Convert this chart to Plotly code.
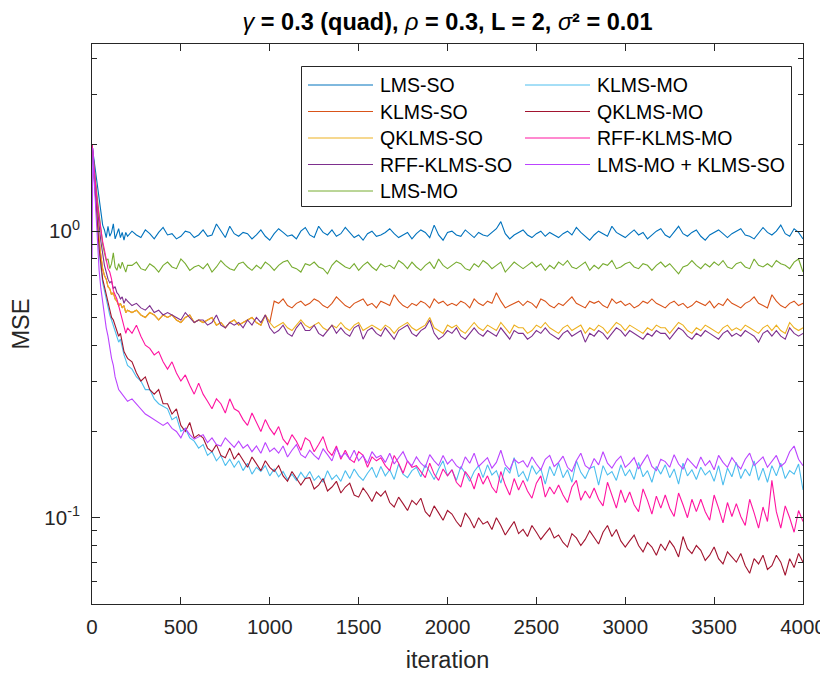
import math
import plotly.graph_objects as go

# ---------------- data ----------------
ITER = [0, 5, 10, 20, 30, 40, 50, 60, 70, 80, 90,
        100, 110, 120, 130, 140, 150, 160, 170, 180, 190, 200] + list(range(225, 4001, 25))

LMS_SO = [
    2.0, 1.9, 1.8, 1.6, 1.42, 1.3, 1.15, 1.05, 1.01, 0.95, 1.04,
    0.96, 0.99, 1.06, 0.94, 0.98, 1.02, 0.95, 0.99, 0.93, 0.99, 0.96,
    1.00, 0.97, 0.95, 1.01, 0.98, 0.94, 0.99, 1.03,
    0.97, 0.98, 0.94, 0.96, 1.00, 0.99, 0.95, 0.97,
    1.01, 0.96, 0.97, 1.06, 1.00, 0.95, 1.04, 0.98,
    0.96, 0.99, 0.98, 0.94, 0.97, 1.01, 0.96, 0.93,
    0.98, 1.02, 0.99, 0.96, 0.97, 0.94, 1.00, 1.03,
    0.97, 0.95, 1.04, 0.99, 0.97, 1.01, 0.96, 0.98,
    1.03, 0.99, 0.95, 0.97, 0.93, 0.98, 1.00, 0.96,
    0.97, 0.99, 1.02, 0.98, 0.95, 0.97, 0.99, 0.94,
    0.98, 1.01, 0.99, 0.95, 1.05, 0.97, 0.93, 0.99,
    1.00, 0.97, 0.96, 1.01, 0.98, 0.95, 0.99, 0.97,
    0.96, 0.99, 1.02, 1.08, 0.98, 0.94, 0.97, 0.99,
    1.01, 0.97, 0.95, 0.98, 1.00, 0.96, 0.99, 0.97,
    0.95, 0.98, 1.00, 0.97, 1.03, 0.99, 0.96, 0.93,
    0.97, 1.00, 0.98, 0.96, 1.04, 0.99, 0.97, 0.95,
    0.98, 1.01, 0.97, 0.99, 0.94, 0.97, 1.00, 1.02,
    0.97, 0.95, 0.99, 1.04, 0.98, 0.96, 0.99, 1.01,
    0.96, 0.93, 0.97, 0.99, 1.01, 0.98, 0.95, 0.98,
    1.00, 1.02, 0.97, 0.96, 0.94, 0.98, 1.03, 0.99,
    0.97, 1.00, 1.05, 0.98, 0.96, 1.02, 0.99, 0.94,
]

QKLMS_SO = [
    2.0, 1.85, 1.65, 1.35, 1.1, 0.93, 0.82, 0.74, 0.7, 0.68, 0.64,
    0.63, 0.6, 0.61, 0.58, 0.57, 0.55, 0.56, 0.54, 0.55, 0.52, 0.53,
    0.52, 0.53, 0.51, 0.50, 0.52, 0.51, 0.49, 0.51,
    0.50, 0.51, 0.49, 0.48, 0.50, 0.51, 0.48, 0.49,
    0.48, 0.49, 0.50, 0.47, 0.48, 0.46, 0.48, 0.49,
    0.47, 0.48, 0.49, 0.50, 0.48, 0.47, 0.51, 0.48,
    0.46, 0.47, 0.48, 0.46, 0.45, 0.47, 0.49, 0.47,
    0.46, 0.47, 0.48, 0.46, 0.45, 0.47, 0.46, 0.48,
    0.46, 0.45, 0.47, 0.48, 0.45, 0.46, 0.47, 0.46,
    0.45, 0.47, 0.46, 0.44, 0.46, 0.47, 0.48, 0.46,
    0.45, 0.46, 0.47, 0.50, 0.46, 0.45, 0.44, 0.47,
    0.46, 0.47, 0.45, 0.44, 0.46, 0.48, 0.46, 0.45,
    0.47, 0.46, 0.45, 0.48, 0.46, 0.44, 0.47, 0.46,
    0.46, 0.44, 0.45, 0.47, 0.46, 0.48, 0.46, 0.45,
    0.44, 0.46, 0.47, 0.45, 0.46, 0.47, 0.44, 0.46,
    0.45, 0.47, 0.46, 0.44, 0.46, 0.48, 0.47, 0.45,
    0.47, 0.46, 0.45, 0.44, 0.46, 0.45, 0.47, 0.46,
    0.46, 0.44, 0.46, 0.48, 0.47, 0.45, 0.44, 0.46,
    0.45, 0.47, 0.46, 0.45, 0.44, 0.46, 0.47, 0.45,
    0.46, 0.45, 0.47, 0.46, 0.45, 0.44, 0.46, 0.47,
    0.45, 0.47, 0.45, 0.44, 0.48, 0.46, 0.45, 0.46,
]

# KLMS-SO coincides with QKLMS-SO up to iteration 1000, then jumps up
KLMS_SO_AFTER_1000 = [
    0.57, 0.56, 0.58, 0.55, 0.54, 0.56, 0.57, 0.55,
    0.56, 0.58, 0.57, 0.55, 0.54, 0.56, 0.59, 0.57,
    0.55, 0.54, 0.56, 0.57, 0.58, 0.55, 0.56, 0.54,
    0.57, 0.56, 0.55, 0.60, 0.57, 0.55, 0.54, 0.56,
    0.55, 0.57, 0.56, 0.54, 0.58, 0.56, 0.57, 0.55,
    0.56, 0.55, 0.57, 0.56, 0.54, 0.58, 0.56, 0.55,
    0.57, 0.56, 0.61, 0.57, 0.54, 0.55, 0.56, 0.57,
    0.55, 0.57, 0.56, 0.54, 0.58, 0.57, 0.55, 0.54,
    0.56, 0.55, 0.57, 0.59, 0.56, 0.55, 0.54, 0.57,
    0.56, 0.57, 0.55, 0.54, 0.58, 0.56, 0.57, 0.55,
    0.56, 0.54, 0.55, 0.57, 0.56, 0.58, 0.56, 0.55,
    0.54, 0.56, 0.57, 0.55, 0.56, 0.54, 0.55, 0.57,
    0.56, 0.55, 0.57, 0.54, 0.56, 0.55, 0.58, 0.56,
    0.55, 0.54, 0.56, 0.57, 0.59, 0.56, 0.55, 0.54,
    0.60, 0.57, 0.55, 0.54, 0.56, 0.57, 0.55, 0.56,
]
KLMS_SO = QKLMS_SO[:54] + KLMS_SO_AFTER_1000

RFF_KLMS_SO = [
    2.0, 1.9, 1.75, 1.45, 1.2, 1.05, 0.92, 0.82, 0.76, 0.72, 0.68,
    0.66, 0.67, 0.63, 0.64, 0.61, 0.6, 0.58, 0.59, 0.56, 0.58, 0.57,
    0.55, 0.56, 0.54, 0.53, 0.55, 0.52, 0.53, 0.51,
    0.52, 0.51, 0.50, 0.49, 0.52, 0.50, 0.48, 0.49,
    0.49, 0.47, 0.48, 0.51, 0.47, 0.46, 0.48, 0.47,
    0.48, 0.46, 0.49, 0.47, 0.50, 0.48, 0.51, 0.46,
    0.44, 0.45, 0.47, 0.44, 0.43, 0.46, 0.48, 0.45,
    0.45, 0.47, 0.44, 0.43, 0.45, 0.47, 0.44, 0.46,
    0.44, 0.43, 0.46, 0.47, 0.42, 0.45, 0.46, 0.44,
    0.43, 0.46, 0.44, 0.42, 0.45, 0.46, 0.47, 0.44,
    0.43, 0.45, 0.46, 0.49, 0.44, 0.42, 0.43, 0.45,
    0.44, 0.46, 0.43, 0.42, 0.44, 0.46, 0.44, 0.43,
    0.45, 0.44, 0.43, 0.46, 0.44, 0.42, 0.45, 0.44,
    0.44, 0.42, 0.43, 0.45, 0.44, 0.46, 0.44, 0.43,
    0.42, 0.44, 0.45, 0.43, 0.44, 0.45, 0.41, 0.44,
    0.43, 0.45, 0.44, 0.42, 0.44, 0.46, 0.45, 0.43,
    0.45, 0.44, 0.43, 0.42, 0.44, 0.43, 0.45, 0.44,
    0.44, 0.42, 0.44, 0.46, 0.45, 0.43, 0.42, 0.44,
    0.43, 0.45, 0.44, 0.43, 0.42, 0.44, 0.45, 0.43,
    0.44, 0.43, 0.45, 0.44, 0.43, 0.41, 0.44, 0.45,
    0.43, 0.45, 0.43, 0.42, 0.46, 0.44, 0.43, 0.44,
]

LMS_MO = [
    2.0, 1.85, 1.7, 1.45, 1.3, 1.15, 1.0, 0.9, 0.84, 0.79, 0.8,
    0.74, 0.77, 0.84, 0.75, 0.73, 0.77, 0.74, 0.78, 0.75, 0.72, 0.76,
    0.76, 0.78, 0.74, 0.73, 0.77, 0.75, 0.72, 0.76,
    0.78, 0.75, 0.74, 0.80, 0.77, 0.73, 0.75, 0.76,
    0.74, 0.77, 0.72, 0.75, 0.79, 0.76, 0.74, 0.73,
    0.77, 0.78, 0.75, 0.73, 0.76, 0.74, 0.78, 0.76,
    0.73, 0.76, 0.78, 0.79, 0.75, 0.74, 0.72, 0.77,
    0.76, 0.78, 0.75, 0.74, 0.71, 0.76, 0.79, 0.77,
    0.75, 0.74, 0.77, 0.73, 0.76, 0.78, 0.75, 0.73,
    0.77, 0.75, 0.76, 0.74, 0.79, 0.77, 0.74, 0.78,
    0.75, 0.73, 0.76, 0.78, 0.74, 0.80, 0.76, 0.74,
    0.76, 0.78, 0.77, 0.74, 0.73, 0.77, 0.75, 0.79,
    0.77, 0.74, 0.76, 0.78, 0.72, 0.75, 0.78, 0.76,
    0.74, 0.76, 0.78, 0.75, 0.77, 0.73, 0.76, 0.74,
    0.78, 0.76, 0.79, 0.75, 0.74, 0.76, 0.78, 0.73,
    0.76, 0.74, 0.77, 0.76, 0.79, 0.74, 0.75, 0.77,
    0.78, 0.75, 0.74, 0.77, 0.76, 0.73, 0.76, 0.78,
    0.75, 0.77, 0.74, 0.71, 0.75, 0.76, 0.79, 0.76,
    0.74, 0.77, 0.75, 0.78, 0.76, 0.79, 0.75, 0.74,
    0.77, 0.78, 0.75, 0.74, 0.80, 0.76, 0.75, 0.77,
    0.75, 0.79, 0.77, 0.76, 0.74, 0.78, 0.80, 0.72,
]

KLMS_MO = [
    2.0, 1.8, 1.58, 1.22, 0.98, 0.85, 0.75, 0.66, 0.62, 0.58, 0.55,
    0.51, 0.49, 0.47, 0.45, 0.43, 0.41, 0.42, 0.39, 0.37, 0.355, 0.34,
    0.33, 0.31, 0.30, 0.28, 0.28, 0.26, 0.25, 0.245,
    0.24, 0.22, 0.225, 0.20, 0.205, 0.19, 0.185, 0.175,
    0.18, 0.165, 0.17, 0.158, 0.165, 0.152, 0.16, 0.15,
    0.158, 0.146, 0.155, 0.142, 0.15, 0.145, 0.152, 0.14,
    0.148, 0.139, 0.145, 0.136, 0.142, 0.135, 0.144, 0.137,
    0.145, 0.135, 0.14, 0.133, 0.146, 0.136, 0.141, 0.134,
    0.146, 0.137, 0.148, 0.14, 0.135, 0.143, 0.15, 0.138,
    0.151, 0.14, 0.147, 0.136, 0.154, 0.142, 0.138, 0.146,
    0.15, 0.139, 0.153, 0.145, 0.136, 0.148, 0.158, 0.14,
    0.147, 0.135, 0.151, 0.143, 0.134, 0.145, 0.152, 0.138,
    0.153, 0.141, 0.146, 0.132, 0.15, 0.143, 0.162, 0.139,
    0.145, 0.134, 0.152, 0.142, 0.148, 0.131, 0.151, 0.14,
    0.155, 0.138, 0.147, 0.133, 0.158, 0.144, 0.137, 0.149,
    0.151, 0.13, 0.152, 0.141, 0.145, 0.135, 0.153, 0.14,
    0.147, 0.136, 0.156, 0.139, 0.146, 0.133, 0.151, 0.142,
    0.153, 0.138, 0.148, 0.131, 0.155, 0.14, 0.147, 0.136,
    0.15, 0.141, 0.146, 0.134, 0.152, 0.13, 0.149, 0.139,
    0.156, 0.137, 0.148, 0.14, 0.158, 0.135, 0.149, 0.133,
    0.152, 0.14, 0.155, 0.137, 0.146, 0.142, 0.154, 0.125,
]

QKLMS_MO = [
    2.0, 1.8, 1.6, 1.25, 1.0, 0.87, 0.77, 0.68, 0.64, 0.6, 0.56,
    0.53, 0.5, 0.49, 0.47, 0.45, 0.43, 0.44, 0.41, 0.38, 0.37, 0.36,
    0.35, 0.32, 0.30, 0.31, 0.28, 0.27, 0.28, 0.25,
    0.25, 0.23, 0.24, 0.21, 0.20, 0.215, 0.19, 0.195,
    0.19, 0.175, 0.17, 0.18, 0.165, 0.162, 0.175, 0.16,
    0.168, 0.158, 0.15, 0.163, 0.155, 0.146, 0.158, 0.15,
    0.145, 0.152, 0.14, 0.134, 0.145, 0.138, 0.13, 0.137,
    0.138, 0.126, 0.13, 0.137, 0.124, 0.128, 0.134, 0.122,
    0.128, 0.132, 0.12, 0.118, 0.127, 0.121, 0.114, 0.123,
    0.119, 0.124, 0.113, 0.109, 0.118, 0.112, 0.106, 0.115,
    0.111, 0.117, 0.105, 0.101, 0.11, 0.104, 0.098, 0.106,
    0.103, 0.097, 0.093, 0.104, 0.099, 0.092, 0.1, 0.095,
    0.097, 0.091, 0.1, 0.094, 0.087, 0.092, 0.097, 0.088,
    0.091, 0.086, 0.094, 0.089, 0.084, 0.088, 0.092, 0.085,
    0.087, 0.082, 0.079, 0.088, 0.085, 0.08, 0.084, 0.09,
    0.085, 0.081, 0.089, 0.094, 0.086, 0.091, 0.083, 0.079,
    0.083, 0.087, 0.08, 0.076, 0.082, 0.079, 0.074, 0.081,
    0.077, 0.083, 0.079, 0.073, 0.086, 0.078, 0.075, 0.08,
    0.077, 0.071, 0.074, 0.079, 0.072, 0.069, 0.076, 0.073,
    0.07, 0.075, 0.068, 0.064, 0.072, 0.069, 0.074, 0.066,
    0.068, 0.074, 0.07, 0.063, 0.072, 0.067, 0.075, 0.07,
]

RFF_KLMS_MO = [
    2.0, 1.9, 1.7, 1.4, 1.25, 1.12, 1.0, 0.92, 0.86, 0.8, 0.74,
    0.72, 0.68, 0.62, 0.6, 0.58, 0.55, 0.52, 0.49, 0.46, 0.44, 0.46,
    0.44, 0.47, 0.43, 0.40, 0.39, 0.37, 0.38, 0.35,
    0.33, 0.35, 0.32, 0.30, 0.315, 0.29, 0.27, 0.295,
    0.27, 0.255, 0.24, 0.26, 0.25, 0.232, 0.26, 0.24,
    0.235, 0.22, 0.21, 0.232, 0.215, 0.20, 0.22, 0.205,
    0.195, 0.208, 0.188, 0.18, 0.195, 0.185, 0.172, 0.19,
    0.185, 0.17, 0.18, 0.192, 0.172, 0.165, 0.178, 0.16,
    0.172, 0.16, 0.156, 0.17, 0.165, 0.15, 0.163, 0.158,
    0.162, 0.152, 0.146, 0.165, 0.155, 0.143, 0.158, 0.15,
    0.152, 0.145, 0.138, 0.155, 0.142, 0.135, 0.148, 0.14,
    0.147, 0.133, 0.128, 0.145, 0.138, 0.126, 0.143, 0.131,
    0.14, 0.128, 0.122, 0.145, 0.13, 0.12, 0.137, 0.125,
    0.135, 0.124, 0.117, 0.132, 0.14, 0.118, 0.128, 0.121,
    0.13, 0.12, 0.113, 0.128, 0.135, 0.115, 0.124, 0.117,
    0.127, 0.116, 0.11, 0.133, 0.12, 0.108, 0.125, 0.113,
    0.123, 0.111, 0.105, 0.126, 0.115, 0.103, 0.119, 0.108,
    0.12, 0.108, 0.101, 0.122, 0.111, 0.10, 0.116, 0.105,
    0.116, 0.105, 0.098, 0.12, 0.108, 0.096, 0.113, 0.101,
    0.112, 0.101, 0.094, 0.116, 0.104, 0.092, 0.109, 0.097,
    0.135, 0.105, 0.092, 0.11, 0.10, 0.089, 0.106, 0.097,
]

LMS_MO_KLMS_SO = [
    0.8, 1.95, 1.6, 1.18, 0.9, 0.73, 0.63, 0.56, 0.5, 0.46, 0.43,
    0.39, 0.36, 0.34, 0.31, 0.295, 0.28, 0.275, 0.27, 0.265, 0.26, 0.255,
    0.26, 0.25, 0.24, 0.23, 0.225, 0.22, 0.215, 0.21,
    0.215, 0.205, 0.20, 0.19, 0.205, 0.195, 0.188, 0.192,
    0.195, 0.183, 0.19, 0.18, 0.178, 0.19, 0.182, 0.176,
    0.185, 0.175, 0.18, 0.17, 0.178, 0.168, 0.183, 0.17,
    0.175, 0.168, 0.178, 0.163, 0.172, 0.18, 0.166, 0.162,
    0.172, 0.165, 0.16, 0.174, 0.166, 0.158, 0.175, 0.163,
    0.168, 0.16, 0.172, 0.158, 0.165, 0.155, 0.17, 0.162,
    0.165, 0.156, 0.168, 0.154, 0.162, 0.17, 0.157, 0.152,
    0.163, 0.155, 0.15, 0.166, 0.158, 0.152, 0.165, 0.154,
    0.16, 0.152, 0.148, 0.163, 0.155, 0.168, 0.151, 0.157,
    0.162, 0.149, 0.156, 0.172, 0.153, 0.147, 0.16, 0.155,
    0.158, 0.15, 0.163, 0.154, 0.147, 0.16, 0.165, 0.151,
    0.156, 0.164, 0.15, 0.145, 0.158, 0.168, 0.152, 0.148,
    0.161, 0.153, 0.17, 0.155, 0.149, 0.158, 0.164, 0.15,
    0.155, 0.162, 0.148, 0.157, 0.166, 0.151, 0.146, 0.16,
    0.157, 0.15, 0.166, 0.154, 0.148, 0.161, 0.155, 0.149,
    0.163, 0.152, 0.158, 0.147, 0.165, 0.156, 0.15, 0.162,
    0.154, 0.148, 0.16, 0.168, 0.152, 0.157, 0.163, 0.15,
    0.158, 0.165, 0.151, 0.156, 0.17, 0.178, 0.16, 0.152,
]

NAMES = ["LMS-SO", "KLMS-SO", "QKLMS-SO", "RFF-KLMS-SO", "LMS-MO",
         "KLMS-MO", "QKLMS-MO", "RFF-KLMS-MO", "LMS-MO + KLMS-SO"]
COLORS = ["#0072BD", "#D95319", "#EDB120", "#7E2F8E", "#77AC30",
          "#4DBEEE", "#A2142F", "#FF14A0", "#BB44FF"]
SERIES = [LMS_SO, KLMS_SO, QKLMS_SO, RFF_KLMS_SO, LMS_MO,
          KLMS_MO, QKLMS_MO, RFF_KLMS_MO, LMS_MO_KLMS_SO]

X_TICKS = [0, 500, 1000, 1500, 2000, 2500, 3000, 3500, 4000]
Y_MAJOR = [0.1, 1]
Y_MAJOR_TEXT = ["10<sup>-1</sup>", "10<sup>0</sup>"]
Y_MINOR = [0.06, 0.07, 0.08, 0.09, 0.2, 0.3, 0.4, 0.5, 0.6, 0.7, 0.8, 0.9, 2, 3, 4]
Y_MIN, Y_MAX = 0.05, 4.5

# ---------------- figure ----------------
# the page body has an 8 px default margin, so the figure is drawn at (8, 8)
OFF = 8
W, H = 828 - OFF, 674 - OFF
ML, MR, MT, MB = 84, 25, 36, 70
PW, PH = W - ML - MR, H - MT - MB
AX = "#262626"
FONT = "Liberation Sans, Arial, Helvetica, sans-serif"


def px_x(p):
    """screen x (px) -> paper x"""
    return (p - OFF - ML) / PW


def px_y(p):
    """screen y (px) -> paper y"""
    return (H - MB - (p - OFF)) / PH


fig = go.Figure()
for name, color, ys in zip(NAMES, COLORS, SERIES):
    fig.add_trace(go.Scatter(x=ITER[:len(ys)], y=ys, mode="lines", name=name,
                             line=dict(color=color, width=1.1), showlegend=False,
                             hoverinfo="skip"))

fig.update_layout(
    width=W, height=H,
    margin=dict(l=ML, r=MR, t=MT, b=MB, autoexpand=False),
    paper_bgcolor="white", plot_bgcolor="white",
    font=dict(family=FONT, size=20, color=AX),
    showlegend=False,
    title=dict(
        text="<i>γ</i><b> = 0.3 (quad), </b><i>ρ</i><b> = 0.3, L = 2, </b><i>σ</i><b>² = 0.01</b>",
        x=0.5, xref="paper", xanchor="center",
        y=1 - (22 - OFF) / H, yref="container", yanchor="middle",
        font=dict(family=FONT, size=23.5, color="black"),
    ),
    xaxis=dict(
        range=[0, 4000], tickmode="array", tickvals=X_TICKS,
        ticks="inside", ticklen=7, tickwidth=1, tickcolor=AX,
        showline=True, linecolor=AX, linewidth=1, mirror="ticks",
        showgrid=False, zeroline=False, automargin=False,
        ticklabelstandoff=4,
        tickfont=dict(size=20.5, color=AX),
        title=dict(text="iteration", font=dict(size=23.5, color=AX), standoff=14),
    ),
    yaxis=dict(
        type="log", range=[math.log10(Y_MIN), math.log10(Y_MAX)],
        tickmode="array", tickvals=Y_MAJOR, ticktext=Y_MAJOR_TEXT,
        ticks="inside", ticklen=8, tickwidth=1, tickcolor=AX,
        minor=dict(tickmode="array", tickvals=Y_MINOR, ticks="inside",
                   ticklen=5, tickwidth=1, tickcolor=AX, showgrid=False),
        showline=True, linecolor=AX, linewidth=1, mirror="ticks",
        showgrid=False, zeroline=False, automargin=False,
        ticklabelstandoff=7,
        tickfont=dict(size=20.5, color=AX),
        title=dict(text="MSE", font=dict(size=23.5, color=AX), standoff=10),
    ),
)

# ---------------- legend (two columns, MATLAB style) ----------------
LEG_LEFT, LEG_RIGHT, LEG_TOP, LEG_BOTTOM = 301.5, 791.5, 66.5, 206.5
ROW0, ROW_STEP = 85, 26.5
COL_LINE_X = [(308, 373), (525, 590)]
COL_TEXT_X = [378, 595]

fig.add_shape(type="rect", xref="paper", yref="paper",
              x0=px_x(LEG_LEFT), x1=px_x(LEG_RIGHT),
              y0=px_y(LEG_BOTTOM), y1=px_y(LEG_TOP),
              line=dict(color="#262626", width=1), fillcolor="white", layer="above")
for i, (name, color) in enumerate(zip(NAMES, COLORS)):
    col, row = divmod(i, 5)
    yy = px_y(ROW0 + row * ROW_STEP)
    x0, x1 = COL_LINE_X[col]
    fig.add_shape(type="line", xref="paper", yref="paper",
                  x0=px_x(x0), x1=px_x(x1), y0=yy, y1=yy,
                  line=dict(color=color, width=1), layer="above")
    fig.add_annotation(xref="paper", yref="paper", x=px_x(COL_TEXT_X[col]), y=yy,
                       text=name, showarrow=False, xanchor="left", yanchor="middle",
                       font=dict(family=FONT, size=19.5, color="black"))

fig.write_html("out.html")
